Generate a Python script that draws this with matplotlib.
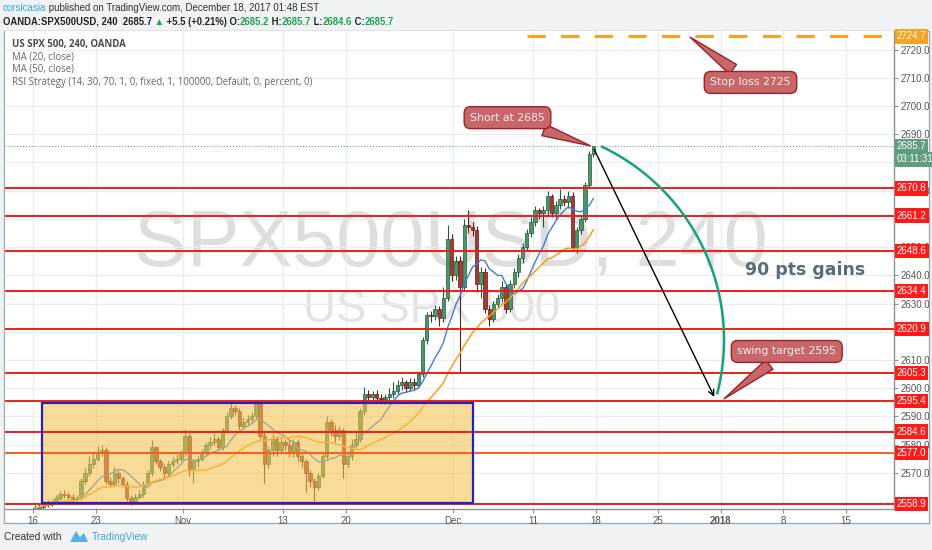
import numpy as np
import pandas as pd
import matplotlib
matplotlib.use('Agg')
import matplotlib.pyplot as plt
import matplotlib.transforms as mtransforms
from matplotlib.patches import Rectangle, Polygon

# 8h candles (3 per trading day), x in trading days from Mon Oct 16 2017
closes = [2557.5, 2558.0, 2559.0,  2559.0, 2559.5, 2561.0,  2562.5, 2562.0, 2561.5,
          2560.5, 2561.0, 2567.0,  2570.0, 2573.0, 2575.0,  2577.5, 2578.0, 2567.0,
          2566.0, 2570.0, 2568.0,  2566.0, 2561.0, 2560.0,  2561.5, 2562.5, 2566.0,
          2570.0, 2579.0, 2574.0,  2572.0, 2570.0, 2573.0,  2574.0, 2575.0, 2577.0,
          2583.0, 2571.0, 2574.0,  2575.0, 2577.0, 2580.0,  2581.0, 2582.0, 2579.0,
          2585.0, 2590.0, 2593.0,  2592.0, 2586.5, 2588.0,  2589.0, 2590.0, 2594.5,
          2583.0, 2573.0, 2578.0,  2582.0, 2578.0, 2581.0,  2580.0, 2577.0, 2581.0,
          2576.0, 2574.0, 2570.0,  2567.0, 2565.0, 2569.0,  2576.0, 2588.0, 2585.0,
          2583.0, 2585.0, 2573.0,  2576.0, 2580.0, 2582.0,  2592.0, 2598.0, 2597.0,
          2598.0, 2596.5, 2596.0,  2597.0, 2598.0, 2599.0,  2601.0, 2602.0, 2600.0,
          2602.0, 2601.0, 2605.0,  2617.0, 2626.0, 2625.5,  2628.0, 2625.0, 2632.0,
          2653.0, 2640.0, 2645.0,  2636.0, 2658.0, 2657.0,  2656.0, 2637.0, 2641.0,
          2628.0, 2624.5, 2630.0,  2632.0, 2636.0, 2628.0,  2637.0, 2641.0, 2646.0,
          2650.0, 2655.0, 2659.0,  2663.0, 2662.0, 2663.0,  2668.0, 2662.0, 2665.0,
          2667.0, 2666.0, 2668.0,  2650.0, 2656.0, 2660.0,  2672.0, 2683.0, 2685.7]
highs = [2558.5, 2559.0, 2560.0,  2560.2, 2560.5, 2562.0,  2563.5, 2564.0, 2563.0,
         2562.5, 2562.0, 2568.0,  2571.5, 2576.0, 2577.0,  2579.5, 2580.0, 2579.0,
         2568.5, 2572.0, 2571.0,  2569.0, 2567.0, 2562.0,  2562.5, 2564.0, 2567.0,
         2571.0, 2581.5, 2579.5,  2575.0, 2573.0, 2574.0,  2575.5, 2576.5, 2578.0,
         2585.5, 2584.0, 2575.0,  2576.0, 2578.5, 2581.0,  2582.5, 2584.0, 2583.0,
         2586.0, 2591.5, 2595.0,  2594.0, 2593.0, 2589.5,  2590.5, 2591.5, 2595.5,
         2595.0, 2584.5, 2579.5,  2584.0, 2583.0, 2582.5,  2582.0, 2581.5, 2582.0,
         2582.0, 2577.0, 2575.0,  2571.0, 2568.0, 2570.0,  2577.0, 2590.0, 2589.0,
         2587.0, 2586.5, 2586.0,  2577.0, 2582.0, 2584.0,  2593.0, 2600.5, 2599.5,
         2599.0, 2599.5, 2598.0,  2598.0, 2600.0, 2602.0,  2603.0, 2604.0, 2603.0,
         2603.5, 2603.5, 2606.0,  2618.0, 2627.0, 2627.5,  2629.5, 2629.0, 2636.0,
         2658.0, 2654.5, 2647.0,  2647.0, 2660.0, 2663.0,  2659.0, 2657.5, 2643.0,
         2642.5, 2629.5, 2631.0,  2633.5, 2638.0, 2637.0,  2638.5, 2642.5, 2647.5,
         2651.5, 2656.5, 2660.5,  2664.5, 2664.0, 2664.5,  2670.0, 2669.0, 2666.5,
         2670.5, 2668.5, 2670.0,  2669.5, 2657.0, 2661.0,  2673.0, 2684.0, 2686.0]
lows = [2556.0, 2556.8, 2557.2,  2558.0, 2558.3, 2559.0,  2560.2, 2561.0, 2560.5,
        2559.5, 2559.8, 2560.3,  2566.0, 2569.0, 2571.5,  2574.0, 2576.0, 2566.0,
        2565.0, 2565.0, 2566.5,  2565.0, 2560.0, 2558.5,  2559.0, 2560.5, 2561.5,
        2565.0, 2569.0, 2573.0,  2570.5, 2568.0, 2569.0,  2572.0, 2573.0, 2574.0,
        2576.0, 2569.0, 2566.5,  2572.0, 2574.0, 2576.0,  2578.5, 2580.0, 2578.0,
        2578.0, 2584.0, 2589.0,  2590.5, 2585.0, 2585.5,  2586.5, 2587.5, 2589.0,
        2582.0, 2566.5, 2571.5,  2576.0, 2576.0, 2576.5,  2578.0, 2575.5, 2575.5,
        2574.0, 2572.0, 2563.0,  2565.0, 2559.0, 2564.0,  2568.0, 2575.0, 2583.0,
        2581.0, 2581.5, 2568.0,  2571.5, 2574.5, 2579.0,  2581.0, 2590.5, 2595.5,
        2595.5, 2595.0, 2594.5,  2594.5, 2595.5, 2596.5,  2597.5, 2599.5, 2598.5,
        2599.0, 2599.5, 2600.0,  2604.0, 2615.5, 2623.5,  2624.0, 2622.0, 2623.5,
        2631.0, 2638.0, 2638.5,  2605.5, 2634.5, 2655.0,  2654.0, 2634.0, 2632.0,
        2626.5, 2622.0, 2623.5,  2628.5, 2630.5, 2626.5,  2627.0, 2635.5, 2639.5,
        2644.5, 2648.5, 2653.5,  2657.5, 2660.0, 2657.0,  2661.5, 2660.5, 2660.0,
        2663.5, 2664.5, 2664.0,  2648.5, 2648.0, 2654.5,  2659.0, 2671.0, 2682.0]
first_open = 2557.0

levels = [2670.8, 2661.2, 2648.6, 2634.4, 2620.9, 2605.3, 2595.4, 2584.6, 2577.0, 2558.9]
level_colors = ['#f21b1b'] * 8 + ['#ff5a1e', '#f21b1b']
stop_loss = 2724.7
last_price = 2685.7
countdown = '03:11:31'

tick_pos = [0, 5, 12, 20, 25, 33.6, 40, 45, 50, 55, 60, 65]
tick_lab = ['16', '23', 'Nov', '13', '20', 'Dec', '11', '18', '25', '2018', '8', '15']
price_ticks = list(range(2570, 2721, 10))

zone_days = (0.72, 35.2)
zone_price = (2559.4, 2594.6)

W, H = 932, 550
fig = plt.figure(figsize=(W / 100, H / 100), dpi=100, facecolor='#f0f3f6')

def fx(px):
    return px / W

def fy(py):
    return 1 - py / H

# white chart frame
fig.patches.append(Rectangle((fx(4), fy(523)), 925 / W, 492 / H, transform=fig.transFigure,
                             fc='white', ec='#a4a9ae', lw=1, zorder=-5))

ax = fig.add_axes([fx(5), fy(509), 889 / W, 478 / H])
ax.set_zorder(1)
ax.set_xlim(-2.24, 68.88)
ax.set_ylim(2557.13, 2726.63)
ax.set_facecolor('white')
for s in ['top', 'left']:
    ax.spines[s].set_visible(False)
for s in ['right', 'bottom']:
    ax.spines[s].set_color('#8d9297')
    ax.spines[s].set_linewidth(1)

ax.yaxis.tick_right()
ax.set_yticks(price_ticks)
ax.set_yticklabels(['%.1f' % p for p in price_ticks])
ax.set_xticks(tick_pos)
ax.set_xticklabels(tick_lab)
ax.tick_params(axis='both', length=3, color='#8d9297', labelcolor='#555555',
               labelsize=7, pad=2)
for lab in ax.get_xticklabels() + ax.get_yticklabels():
    lab.set_family('Liberation Sans')
for lab in ax.get_xticklabels():
    if lab.get_text() == '2018':
        lab.set_fontweight('bold')
ax.grid(color='#eaecef', lw=0.9, zorder=0)
ax.set_axisbelow(True)

# watermark
ax.text(0.502, 0.552, 'SPX500USD, 240', transform=ax.transAxes, ha='center', va='center',
        fontsize=57, color='#dedede', family='Liberation Sans', zorder=0.5)
ax.text(0.48, 0.416, 'US SPX 500', transform=ax.transAxes, ha='center', va='center',
        fontsize=33, color='#e3e3e3', family='Liberation Sans', zorder=0.5)

# candles
c = np.array(closes)
o = np.concatenate([[first_open], c[:-1]])
x = (np.arange(len(c)) + 0.5) / 3
up = c >= o
wick_col = np.where(up, '#27583a', '#5e1d17')
ax.vlines(x, lows, highs, colors=wick_col, lw=0.8, zorder=2)
ax.bar(x, np.maximum(np.abs(c - o), 0.4), bottom=np.minimum(o, c), width=0.26,
       color=np.where(up, '#4a9668', '#a13b33'), edgecolor=wick_col, lw=0.5, zorder=2.1)

# moving averages (20 / 50 four-hour bars -> 10 / 25 of these 8h bars)
s = pd.Series(closes)
ax.plot(x, s.rolling(10, min_periods=1).mean(), color='#3d7be0', lw=1.0, zorder=2.3)
ax.plot(x, s.rolling(25, min_periods=1).mean(), color='#f5a01e', lw=1.1, zorder=2.3)

# yellow consolidation zone
ax.add_patch(Rectangle((zone_days[0], zone_price[0]), zone_days[1] - zone_days[0],
                       zone_price[1] - zone_price[0], fc='#f6c24e', alpha=0.58, ec='none', zorder=3))
ax.add_patch(Rectangle((zone_days[0], zone_price[0]), zone_days[1] - zone_days[0],
                       zone_price[1] - zone_price[0], fill=False, ec='#2222c4', lw=1.6, zorder=4.5))

# horizontal levels
for lvl, col in zip(levels, level_colors):
    ax.axhline(lvl, color=col, lw=1.4, zorder=4)
ax.axhline(last_price, color='#3c9a7c', lw=0.7, ls=(0, (1, 2)), zorder=4)
ax.hlines(stop_loss, 39.5, 68.88, color='#f7a125', lw=2.2, linestyles=(0, (6, 5)), zorder=4)

# price scale labels
bt = mtransforms.blended_transform_factory(ax.transAxes, ax.transData)
def price_label(y, txt, fc):
    ax.text(1.003, y, txt, transform=bt, ha='left', va='center', fontsize=7, color='white',
            family='Liberation Sans', clip_on=False, zorder=6,
            bbox=dict(boxstyle='square,pad=0.22', fc=fc, ec='none'))

for lvl in levels:
    price_label(lvl, '%.1f' % lvl, '#ff1a1a')
price_label(stop_loss, '%.1f' % stop_loss, '#f7a125')
price_label(last_price, '%.1f' % last_price, '#5f9f80')
price_label(last_price - 4.6, countdown, '#5f9f80')

# projection arrow and arc
ax.annotate('', xy=(54.6, 2596.0), xytext=(44.8, 2685.5),
            arrowprops=dict(arrowstyle='->', color='black', lw=1.0, mutation_scale=10), zorder=5)
t = np.radians(np.linspace(-14.4, 64.5, 100))
ax.plot(38.16 + 17.12 * np.cos(t), 2617.06 + 75.9 * np.sin(t), color='#17a07e', lw=1.8, zorder=5)

ax.text(61.76, 2641.8, '90 pts gains', ha='center', va='center', fontsize=12.5,
        fontweight='bold', color='#5a6b7c', family='DejaVu Sans', zorder=5)

# callouts
def callout(txt, tip, center):
    ax.annotate(txt, xy=tip, xytext=center, ha='center', va='center', fontsize=7.8,
                color='#fdeeee', family='DejaVu Sans', zorder=7,
                bbox=dict(boxstyle='round,pad=0.55,rounding_size=0.6', fc='#c8676a', ec='#9b2226', lw=1),
                arrowprops=dict(arrowstyle='wedge,tail_width=1.1,shrink_factor=0.5',
                                fc='#c8676a', ec='#9b2226', lw=1))

callout('Short at 2685', (44.8, 2685.6), (37.96, 2695.9))
callout('Stop loss 2725', (52.4, 2725.0), (57.4, 2708.4))
callout('swing target 2595', (55.1, 2595.6), (60.3, 2613.0))

# legend lines
legend = ['US SPX 500, 240, OANDA', 'MA (20, close)', 'MA (50, close)',
          'RSI Strategy (14, 30, 70, 1, 0, fixed, 1, 100000, Default, 0, percent, 0)']
for i, line in enumerate(legend):
    fig.text(fx(12), fy(44 + 12.7 * i), line, fontsize=6.95, va='center', ha='left',
             color='#4a4a4a' if i == 0 else '#666666', fontweight='bold' if i == 0 else 'normal',
             family=['Open Sans', 'DejaVu Sans'], zorder=10)

# header lines
renderer = fig.canvas.get_renderer()
def write_line(xpx, ypx, parts, size, weight):
    for txt, col in parts:
        tt = fig.text(fx(xpx), fy(ypx), txt, color=col, fontsize=size, fontweight=weight,
                      va='center', ha='left', family=['Liberation Sans', 'DejaVu Sans'])
        xpx += tt.get_window_extent(renderer=renderer).width

write_line(3, 8, [('corsicasia', '#3aa3d8'),
                  (' published on TradingView.com, December 18, 2017 01:48 EST', '#333333')], 7.0, 'normal')
green = '#22a050'
write_line(3, 22, [('OANDA:SPX500USD, 240  2685.7', '#222222'), (' \u25B2', green),
                   (' +5.5 (+0.21%) O:', '#222222'), ('2685.2', green), (' H:', '#222222'),
                   ('2685.7', green), (' L:', '#222222'), ('2684.6', green),
                   (' C:', '#222222'), ('2685.7', green)], 6.85, 'bold')

# footer
fig.text(fx(4), fy(537), 'Created with', fontsize=7.4, color='#333333', va='center', ha='left',
         family='Liberation Sans')
fig.patches.append(Polygon([(fx(70), fy(542)), (fx(76), fy(531)), (fx(80), fy(537)),
                            (fx(84), fy(533)), (fx(88), fy(542))], closed=True,
                           transform=fig.transFigure, fc='#5bb0e0', ec='none'))
fig.text(fx(92), fy(537), 'TradingView', fontsize=7.4, color='#4aa3d8', va='center', ha='left',
         family='Liberation Sans')

fig.savefig('out.png', dpi=100, facecolor=fig.get_facecolor())
